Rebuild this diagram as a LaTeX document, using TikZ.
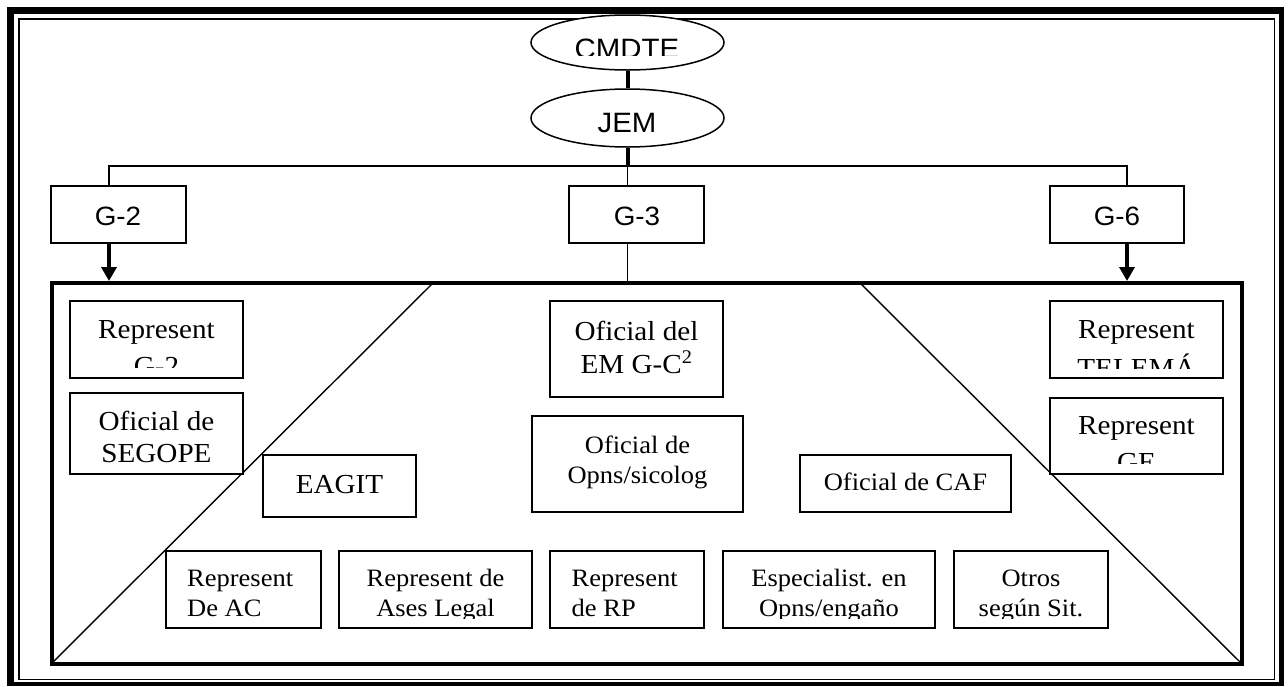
\documentclass[tikz,border=0pt]{standalone}
\usepackage{fontspec}
\setmainfont{Liberation Serif}
\newfontfamily\tnr{Liberation Serif}[FakeStretch=1.06]
\newfontfamily\arl{Liberation Sans}[FakeStretch=1.05]
\usetikzlibrary{arrows.meta,shapes.geometric}

% rectangle node from its top-left to its bottom-right corner
\newcommand\orgbox[5]{\node[box, minimum width={#4pt-#2pt}, minimum height={#5pt-#3pt}] (#1) at (#2,#3) {};}

\begin{document}
\begin{tikzpicture}[x=1pt,y=-1pt,
  box/.style={draw, fill=white, line width=1.3pt, inner sep=0pt, outer sep=0pt, anchor=north west},
  bigbox/.style={draw, line width=4pt, inner sep=0pt, outer sep=0pt, anchor=north west},
  unit/.style={draw, fill=white, ellipse, line width=1.5pt, inner sep=0pt, minimum width=193pt},
  up/.style={font=\tnr\fontsize{27.5}{31}\selectfont, inner sep=0pt},
  low/.style={font=\tnr\fontsize{25}{29}\selectfont, inner sep=0pt},
  gl/.style={font=\arl\fontsize{26.5}{30}\selectfont, inner sep=0pt},
  el/.style={font=\arl\fontsize{28}{32}\selectfont, inner sep=0pt},
  link/.style={line width=1.6pt},
  trunk/.style={line width=4pt},
  down/.style={line width=3.5pt, shorten >=2pt, -{Triangle[width=15pt,length=14pt]}},
  diag/.style={line width=1.4pt},
]
\useasboundingbox (0,0) rectangle (1288,686);

% page frame: thick outer rule, thin inner rule
\draw[line width=7pt] (7,10.5) -- (1284,10.5);
\draw[line width=7pt] (10.5,7) -- (10.5,686);
\draw[line width=5pt] (1281,7) -- (1281,686);
\draw[line width=4pt] (7,684) -- (1284,684);
\draw[line width=1.5pt] (19,19) rectangle (1274.5,679.5);

% staff cell and its trapezoid
\node[bigbox, minimum width=1190pt, minimum height=380.5pt] (big) at (51.5,283) {};
\coordinate (tl) at (433,283);
\coordinate (tr) at (860,283);
\draw[diag] (tl) -- (big.south west);
\draw[diag] (tr) -- (big.south east);

% command ellipses
\node[unit, minimum height=55pt] (cmdte) at (627.5,42.5) {};
\node[unit, minimum height=58pt] (jem) at (627.5,118) {};
\begin{scope}
  \clip (531,10) rectangle (724,55);
  \node[el, anchor=base] (cmdteT) at (627,58) {CMDTE};
\end{scope}
\node[el, anchor=base] (jemT) at (627,132) {JEM};

% staff sections
\orgbox{g2}{51}{186}{186}{243}
\orgbox{g3}{569}{186}{704}{243}
\orgbox{g6}{1050}{186}{1184}{243}
\node[gl, anchor=base] (g2T) at (118,225) {G-2};
\node[gl, anchor=base] (g3T) at (637,225) {G-3};
\node[gl, anchor=base] (g6T) at (1117,225) {G-6};

% connectors
\coordinate (d2) at (109,166);
\coordinate (d6) at (1127,166);
\draw[trunk] (cmdte.south) -- (jem.north);
\draw[trunk] (jem.south) -- (jem.south |- d2);
\draw[link] (d2 |- g2.north) -- (d2) -- (d6) -- (d6 |- g6.north);
\draw[link] (jem.south |- d2) -- (jem.south |- g3.north);
\draw[link] (jem.south |- g3.south) -- (jem.south |- big.north);
\draw[down] (d2 |- g2.south) -- (d2 |- big.north);
\draw[down] (d6 |- g6.south) -- (d6 |- big.north);

% members of the cell, upper part
\orgbox{rg2}{70}{301}{243}{378}
\begin{scope}
  \clip (70,301) rectangle (243,367);
  \node[up, anchor=base] (rg2a) at (156.5,338) {Represent};
  \node[up, anchor=base] (rg2b) at (156.5,375) {G-2};
\end{scope}

\orgbox{seg}{70}{393}{243}{474}
\node[up, anchor=base] (sega) at (156.5,430) {Oficial de};
\node[up, anchor=base] (segb) at (156.5,462) {SEGOPE};

\orgbox{eag}{263}{455}{416}{517}
\node[up, anchor=base] (eaga) at (339.5,493) {EAGIT};

\orgbox{emg}{550}{301}{723}{397}
\node[up, anchor=base] (emga) at (636.5,340) {Oficial del};
\node[up, anchor=base] (emgb) at (636.5,373) {EM G-C\textsuperscript{2}};

\orgbox{ops}{532}{416}{743}{512}
\node[low, anchor=base] (opsa) at (637.5,453) {Oficial de};
\node[low, anchor=base] (opsb) at (637.5,483) {Opns/sicolog};

\orgbox{caf}{800}{455}{1011}{512}
\node[low, anchor=base] (cafa) at (905.5,490) {Oficial de CAF};

\orgbox{tel}{1050}{301}{1223}{378}
\begin{scope}
  \clip (1050,301) rectangle (1223,368);
  \node[up, anchor=base] (tela) at (1136.5,338) {Represent};
  \node[up, anchor=base] (telb) at (1136.5,377) {TELEMÁ};
\end{scope}

\orgbox{ge}{1050}{398}{1223}{474}
\begin{scope}
  \clip (1050,398) rectangle (1223,463);
  \node[up, anchor=base] (gea) at (1136.5,434) {Represent};
  \node[up, anchor=base] (geb) at (1136.5,471) {GE};
\end{scope}

% members of the cell, bottom row
\orgbox{ac}{166}{551}{321}{628}
\orgbox{al}{339}{551}{532}{628}
\orgbox{rp}{550}{551}{704}{628}
\orgbox{esp}{723}{551}{935}{628}
\orgbox{otr}{954}{551}{1108}{628}
\begin{scope}
  \clip (150,540) rectangle (1120,618);
  \node[low, anchor=base west] (aca) at (187,586) {Represent};
  \node[low, anchor=base west] (acb) at (187,616) {De AC};
  \node[low, anchor=base] (ala) at (435.5,586) {Represent de};
  \node[low, anchor=base] (alb) at (435.5,616) {Ases Legal};
  \node[low, anchor=base west] (rpa) at (571.5,586) {Represent};
  \node[low, anchor=base west] (rpb) at (571.5,616) {de RP};
  \node[low, anchor=base] (espa) at (829,586) {Especialist. en};
  \node[low, anchor=base] (espb) at (829,616) {Opns/engaño};
  \node[low, anchor=base] (otra) at (1031,586) {Otros};
  \node[low, anchor=base] (otrb) at (1031,616) {según Sit.};
\end{scope}
\end{tikzpicture}
\end{document}
